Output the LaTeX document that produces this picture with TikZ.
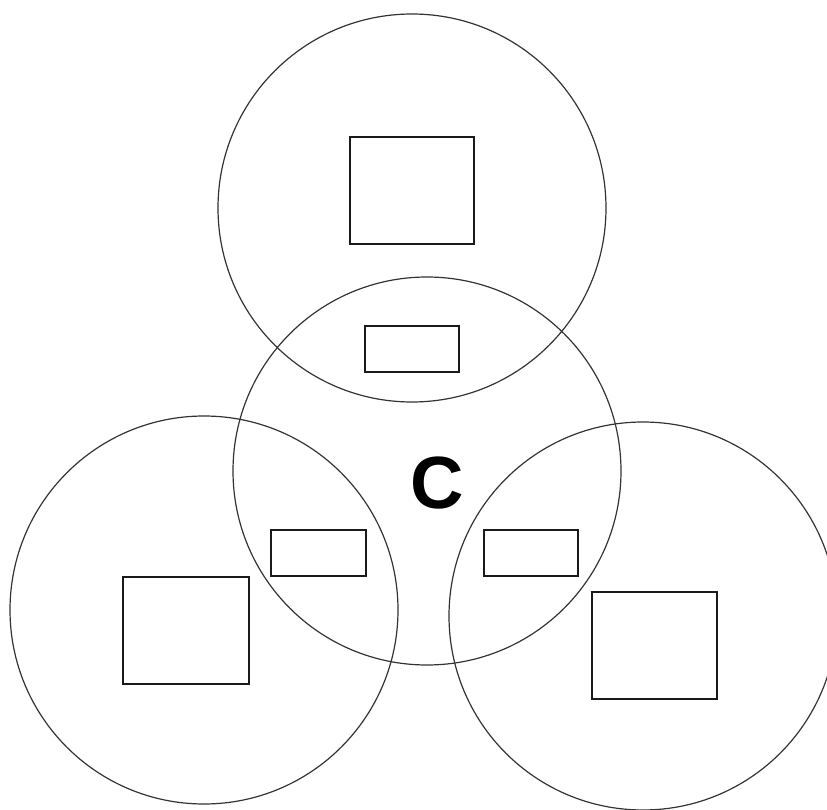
\documentclass[tikz,border=0pt]{standalone}
\usepackage{fontspec}
\setmainfont{Liberation Sans}
\usetikzlibrary{positioning}
\definecolor{ringgray}{HTML}{333333}
\definecolor{boxblack}{HTML}{1A1A1A}
\tikzset{
  ring/.style={circle,draw=ringgray,line width=1.2pt,minimum size=388pt,inner sep=0pt},
  bigbox/.style={rectangle,draw=boxblack,line width=1.2pt,minimum width=125pt,minimum height=107pt,inner sep=0pt},
  slotbox/.style={rectangle,draw=boxblack,line width=1.2pt,minimum width=94pt,minimum height=46pt,inner sep=0pt},
  letter/.style={font=\fontsize{74}{74}\selectfont\bfseries,inner sep=0pt,anchor=base}
}
\begin{document}
\begin{tikzpicture}[x=1pt,y=-1pt]
  \clip (0,0) rectangle (827,810);

  \node[ring] (ctop) at (412,208) {};
  \node[ring] (cmid) at (427,471) {};
  \node[ring] (cleft) at (204,610) {};
  \node[ring] (cright) at (643,616) {};

  \node[bigbox,minimum width=124pt] (boxtop) at (412,190.5) {};
  \node[slotbox] (slottop) at (412,349) {};
  \node[slotbox,minimum width=95pt] (slotleft) at (318.5,553) {};
  \node[slotbox] (slotright) at (531,553) {};
  \node[bigbox,minimum width=126pt] (boxleft) at (186,630.5) {};
  \node[bigbox] (boxright) at (654.5,645.5) {};

  \node[letter] (lblc) at (437,508) {C};
\end{tikzpicture}
\end{document}
